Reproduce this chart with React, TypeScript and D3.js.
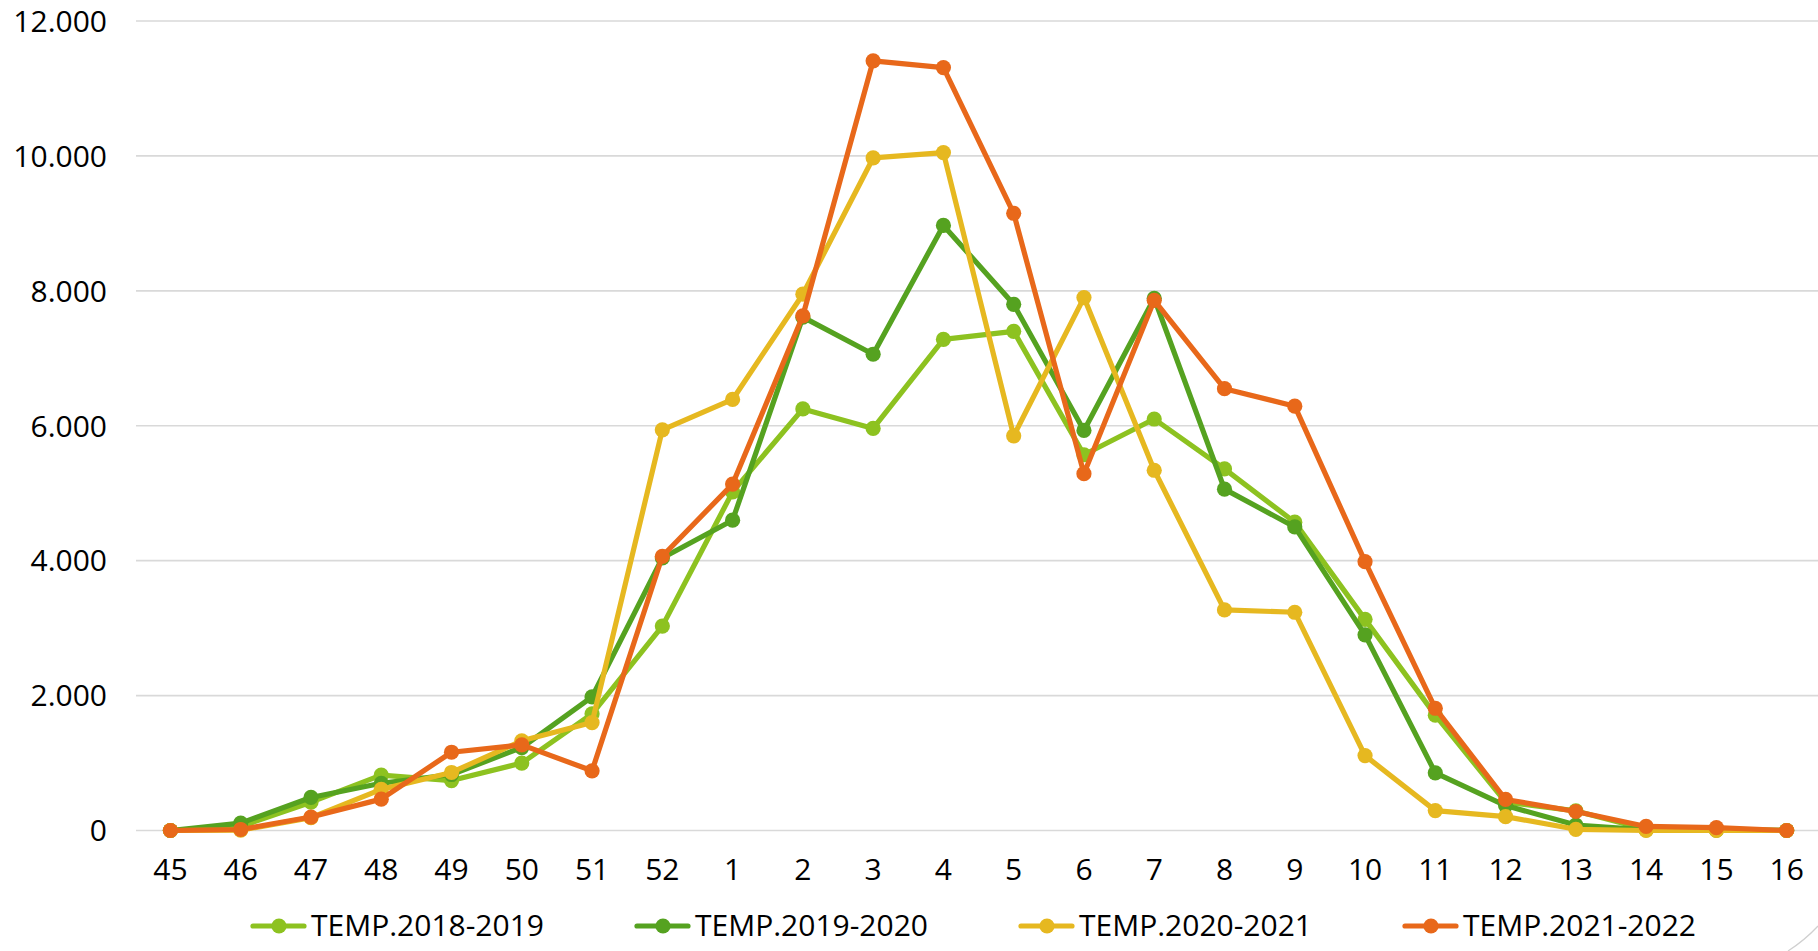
import React from "react";
import * as d3 from "d3";

const categories = ["45","46","47","48","49","50","51","52","1","2","3","4","5","6","7","8","9","10","11","12","13","14","15","16"];
const seriesNames = ["TEMP.2018-2019","TEMP.2019-2020","TEMP.2020-2021","TEMP.2021-2022"];
const s2018 = [0,60,420,820,740,1000,1730,3030,5020,6250,5960,7280,7400,5570,6100,5360,4570,3130,1710,420,290,20,10,0];
const s2019 = [0,110,490,700,830,1230,1980,4040,4600,7610,7060,8970,7800,5930,7890,5060,4500,2900,855,370,80,10,5,0];
const s2020 = [0,5,190,610,860,1330,1600,5940,6390,7950,9970,10050,5850,7900,5340,3270,3235,1110,295,205,18,0,0,0];
const s2021 = [0,15,200,465,1160,1270,885,4065,5135,7630,11410,11310,9150,5290,7860,6550,6290,3985,1812,460,282,60,42,0];
const yTicks = [0,2000,4000,6000,8000,10000,12000];
const colors = ["#8dc220","#55a220","#e6b820","#e8681a"];

const W = 1818, H = 951;
const FONT = "'Open Sans', 'Noto Sans', sans-serif";

export default function App() {
  const allSeries = [s2018, s2019, s2020, s2021];
  const x = d3.scaleBand<string>().domain(categories).range([135.3, 1821.8]).padding(0);
  const cx = (c: string) => (x(c) as number) + x.bandwidth() / 2;
  const y = d3.scaleLinear().domain([0, 12000]).range([830.5, 21]);
  const fmt = d3.formatLocale({ decimal: ",", thousands: ".", grouping: [3], currency: ["", "€"] }).format(",");
  const line = d3.line<number>().x((_, i) => cx(categories[i])).y((v) => y(v));
  const legendStart = 253, legendStep = 384;

  return (
    <svg width={W} height={H} style={{ position: "absolute", left: 0, top: 0, background: "#fff" }} fontFamily={FONT}>
      <rect x={0} y={0} width={W} height={H} fill="#fff" />
      {yTicks.map((t) => (
        <g key={t}>
          <line x1={136} x2={W} y1={y(t)} y2={y(t)} stroke="#d9d9d9" strokeWidth={1.6} />
          <text x={107} y={y(t)} dy="0.36em" textAnchor="end" fontSize={30} fill="#000">{fmt(t)}</text>
        </g>
      ))}
      {categories.map((c) => (
        <text key={c} x={cx(c)} y={880} textAnchor="middle" fontSize={30} fill="#000">{c}</text>
      ))}
      {allSeries.map((s, si) => (
        <g key={si}>
          <path d={line(s) || ""} fill="none" stroke={colors[si]} strokeWidth={5.2} strokeLinejoin="round" strokeLinecap="round" />
          {s.map((v, i) => (
            <circle key={i} cx={cx(categories[i])} cy={y(v)} r={7.6} fill={colors[si]} />
          ))}
        </g>
      ))}
      {seriesNames.map((n, si) => {
        const lx = legendStart + si * legendStep;
        return (
          <g key={n}>
            <line x1={lx} x2={lx + 51} y1={926} y2={926} stroke={colors[si]} strokeWidth={5.2} strokeLinecap="round" />
            <circle cx={lx + 26} cy={926} r={7.6} fill={colors[si]} />
            <text x={lx + 58} y={936} fontSize={30} fill="#000">{n}</text>
          </g>
        );
      })}
      <path d="M 1788 951 Q 1805 940 1818 926" fill="none" stroke="#d0d0d0" strokeWidth={1.2} />
    </svg>
  );
}
